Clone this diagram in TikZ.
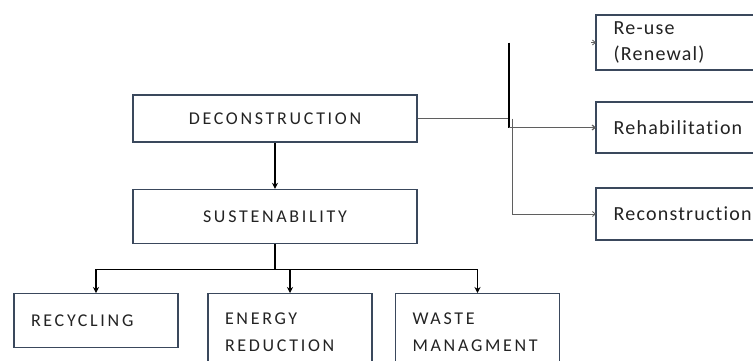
\documentclass[tikz,border=0pt]{standalone}
\usepackage{fontspec}
\setmainfont{Carlito}
\newfontfamily\capsfont{Carlito}[LetterSpace=15, Ligatures=NoCommon]
\newfontfamily\sidefont{Carlito}[LetterSpace=6, Ligatures=NoCommon]
\usetikzlibrary{positioning, arrows.meta}
\definecolor{boxline}{RGB}{58,72,92}
\definecolor{boxtext}{RGB}{35,35,35}
\definecolor{linkgray}{RGB}{95,95,95}

\begin{document}
\begin{tikzpicture}[
    x=1pt, y=-1pt,
    >={Stealth[length=6pt, width=6pt]},
    main_box/.style={draw=boxline, line width=1.6pt, minimum width=284pt, align=center, fill=white, text=boxtext, font=\capsfont\fontsize{18}{27}\selectfont},
    leaf_box/.style={draw=boxline, line width=1.4pt, text width=130pt, inner xsep=17pt, align=left, anchor=north, fill=white, text=boxtext, font=\capsfont\fontsize{18}{27}\selectfont},
    side_box/.style={draw=boxline, line width=1.4pt, text width=146pt, inner xsep=17pt, align=left, anchor=west, fill=white, text=boxtext, font=\sidefont\fontsize{20}{26}\selectfont},
    thick_arrow/.style={->, line width=1.8pt},
    bus_line/.style={line width=1.8pt},
    trunk_line/.style={line width=1.8pt},
    link_arrow/.style={->, line width=1.2pt, draw=linkgray, >={Straight Barb[length=3pt, width=5pt]}},
    thin_arrow/.style={->, line width=0.8pt, draw=linkgray, >={Straight Barb[length=3pt, width=5pt]}}
]
\clip (0,0) rectangle (753,360);
\fill[white] (0,0) rectangle (753,360);

% Main column
\node[main_box, minimum height=47pt] (decon) at (275,118.5) {DECONSTRUCTION};
\node[main_box, minimum height=54pt, below=46pt of decon] (sust) {SUSTENABILITY};

% Bottom row
\node[leaf_box, minimum height=54pt] (recycling) at (96,293) {RECYCLING};
\node[leaf_box, minimum height=77pt] (energy) at (290,293) {ENERGY\\REDUCTION};
\node[leaf_box, minimum height=77pt] (waste) at (477.5,293) {WASTE\\MANAGMENT};

% Right column
\node[side_box, minimum height=55pt] (reuse) at (596,42.5) {Re-use\\(Renewal)};
\node[side_box, minimum height=51pt] (rehab) at (596,127.5) {Rehabilitation};
\node[side_box, minimum height=52pt] (recon) at (596,214) {Reconstruction};
\foreach \n in {reuse, rehab, recon}
    \draw[boxline, line width=2.6pt] (\n.north west) -- (\n.south west);

% Main connections
\draw[thick_arrow] (decon) -- (sust);
\draw[bus_line] (sust.south) -- ++(0,25) coordinate (bus);
\draw[thick_arrow] (bus) -| (recycling);
\draw[thick_arrow] (bus) -| (energy);
\draw[thick_arrow] (bus) -| (waste);

% Side connections
\draw[line width=1.2pt, linkgray] (decon.east) -- ++(91,0) coordinate (tee);
\draw[trunk_line] (tee |- reuse.west) -- (tee |- rehab.west);
\draw[link_arrow] (tee |- rehab.west) -- (rehab.west);
\draw[thin_arrow] ([xshift=4pt]tee) |- (recon.west);
\draw[thin_arrow] ([xshift=-5pt]reuse.west) -- (reuse.west);

\end{tikzpicture}
\end{document}
